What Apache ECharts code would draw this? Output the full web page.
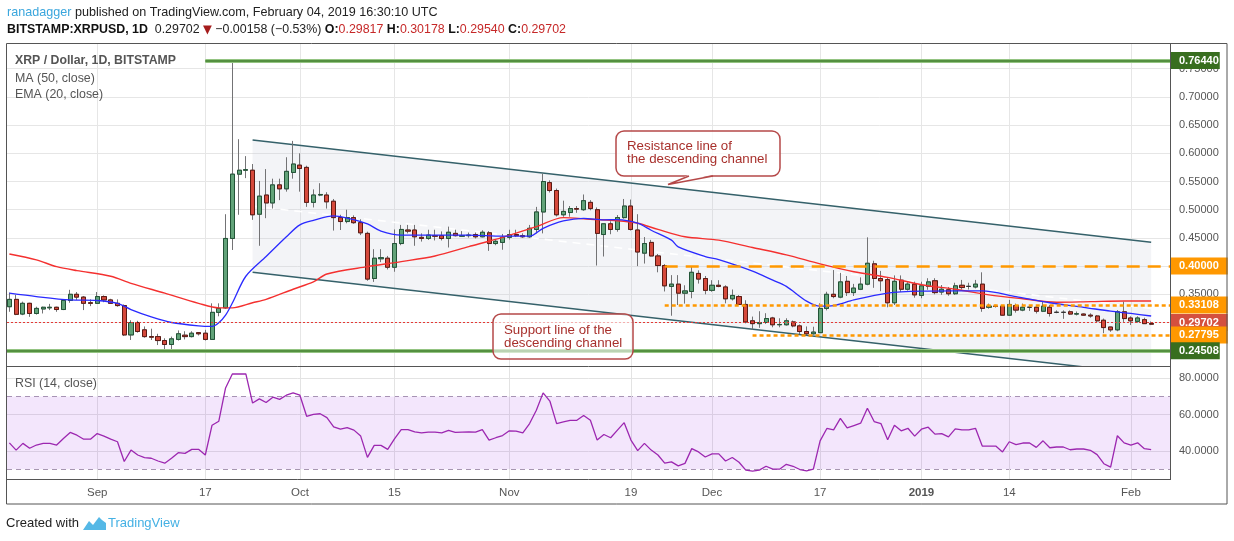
<!DOCTYPE html>
<html>
<head>
<meta charset="UTF-8">
<title>XRP / Dollar, 1D, BITSTAMP</title>
<script src="https://cdn.jsdelivr.net/npm/echarts@6/dist/echarts.min.js"></script>
<style>
  html, body { margin: 0; padding: 0; background: #fff; }
  #chart { width: 1234px; height: 541px; }
</style>
</head>
<body>
<div id="chart"></div>
<script type="text/javascript">
// daily candles, day 0 = 2018-08-19, last = 2019-02-04
var openP = [0.328,0.341,0.315,0.334,0.316,0.324,0.326,0.327,0.323,0.339,
  0.350,0.345,0.335,0.334,0.346,0.340,0.334,0.330,0.278,0.300,
  0.287,0.275,0.275,0.268,0.261,0.270,0.2775,0.275,0.282,0.281,
  0.270,0.318,0.326,0.449,0.563,0.570,0.570,0.492,0.526,0.512,
  0.544,0.537,0.566,0.579,0.575,0.513,0.526,0.526,0.515,0.486,
  0.479,0.486,0.477,0.458,0.378,0.413,0.414,0.398,0.440,0.464,
  0.464,0.451,0.449,0.454,0.454,0.449,0.458,0.453,0.454,0.456,
  0.452,0.459,0.440,0.442,0.451,0.456,0.454,0.452,0.465,0.496,
  0.548,0.534,0.491,0.495,0.502,0.500,0.513,0.500,0.456,0.475,
  0.465,0.486,0.5065,0.464,0.423,0.442,0.418,0.401,0.364,0.368,
  0.352,0.355,0.387,0.378,0.357,0.366,0.363,0.342,0.346,0.332,
  0.303,0.298,0.300,0.308,0.296,0.296,0.301,0.294,0.284,0.280,
  0.282,0.325,0.350,0.345,0.373,0.353,0.359,0.368,0.404,0.378,
  0.376,0.335,0.375,0.359,0.368,0.348,0.364,0.374,0.354,0.358,
  0.351,0.366,0.364,0.363,0.368,0.327,0.329,0.329,0.313,0.330,
  0.322,0.327,0.327,0.320,0.327,0.318,0.318,0.319,0.315,0.315,
  0.313,0.3115,0.304,0.292,0.287,0.319,0.308,0.302,0.305,0.29817];
var highP = [0.353,0.349,0.337,0.335,0.328,0.328,0.333,0.328,0.341,0.358,
  0.354,0.347,0.341,0.354,0.348,0.342,0.341,0.332,0.304,0.303,
  0.293,0.289,0.280,0.272,0.275,0.286,0.2845,0.2845,0.283,0.287,
  0.334,0.334,0.492,0.7644,0.625,0.595,0.581,0.551,0.572,0.555,
  0.555,0.593,0.622,0.600,0.578,0.536,0.547,0.531,0.519,0.491,
  0.500,0.490,0.483,0.461,0.430,0.430,0.418,0.465,0.473,0.473,
  0.473,0.458,0.4645,0.4645,0.4615,0.470,0.4645,0.462,0.4595,0.4595,
  0.4635,0.462,0.4475,0.457,0.4645,0.4645,0.458,0.473,0.505,0.564,
  0.552,0.5375,0.516,0.5065,0.5065,0.527,0.517,0.504,0.4755,0.4795,
  0.4905,0.519,0.518,0.492,0.4515,0.4465,0.4215,0.4035,0.384,0.384,
  0.366,0.399,0.3925,0.3825,0.375,0.375,0.366,0.3585,0.3485,0.3395,
  0.3105,0.320,0.3165,0.310,0.3075,0.3075,0.3035,0.2965,0.293,0.2925,
  0.334,0.3545,0.393,0.388,0.3825,0.3685,0.380,0.451,0.4095,0.3915,
  0.380,0.3835,0.3835,0.3715,0.3725,0.3725,0.3785,0.3785,0.3665,0.363,
  0.3705,0.3755,0.3705,0.3755,0.389,0.3335,0.3315,0.331,0.340,0.3335,
  0.3335,0.331,0.331,0.3365,0.331,0.3215,0.3215,0.3215,0.3195,0.316,
  0.3163,0.3133,0.307,0.2925,0.322,0.337,0.311,0.311,0.3085,0.30178];
var lowP = [0.319,0.313,0.313,0.310,0.314,0.316,0.322,0.319,0.322,0.335,
  0.340,0.322,0.329,0.333,0.336,0.333,0.328,0.276,0.269,0.282,
  0.273,0.269,0.260,0.253,0.253,0.268,0.270,0.2735,0.277,0.268,
  0.269,0.311,0.324,0.4286,0.491,0.556,0.482,0.436,0.485,0.502,
  0.517,0.532,0.555,0.532,0.505,0.504,0.524,0.502,0.463,0.464,
  0.476,0.475,0.455,0.374,0.372,0.407,0.394,0.390,0.437,0.458,
  0.436,0.4435,0.4465,0.4455,0.4455,0.433,0.4525,0.452,0.4505,0.449,
  0.451,0.427,0.437,0.429,0.447,0.4515,0.450,0.450,0.458,0.458,
  0.5305,0.488,0.4875,0.4875,0.4945,0.498,0.499,0.401,0.417,0.4565,
  0.461,0.484,0.463,0.400,0.4045,0.4175,0.389,0.355,0.312,0.331,
  0.3335,0.343,0.369,0.350,0.3545,0.3625,0.334,0.339,0.331,0.2985,
  0.2875,0.2905,0.2975,0.2915,0.2915,0.2945,0.2915,0.2795,0.2775,0.2785,
  0.2815,0.3215,0.343,0.343,0.347,0.347,0.3575,0.366,0.3615,0.3555,
  0.327,0.331,0.354,0.3565,0.344,0.343,0.358,0.350,0.349,0.3475,
  0.349,0.3585,0.3585,0.3605,0.319,0.3245,0.3265,0.312,0.3115,0.3175,
  0.320,0.3205,0.316,0.3185,0.3105,0.3165,0.3065,0.3135,0.3125,0.312,
  0.3085,0.3005,0.281,0.2835,0.2845,0.301,0.2955,0.2995,0.2975,0.29540];
var closeP = [0.341,0.3145,0.334,0.316,0.325,0.327,0.327,0.323,0.339,0.350,
  0.345,0.334,0.334,0.346,0.340,0.334,0.330,0.278,0.300,0.284,
  0.275,0.274,0.268,0.261,0.271,0.280,0.275,0.281,0.280,0.270,
  0.318,0.325,0.449,0.563,0.570,0.571,0.491,0.524,0.512,0.544,
  0.537,0.568,0.581,0.573,0.513,0.526,0.527,0.514,0.486,0.479,
  0.486,0.477,0.459,0.377,0.414,0.415,0.398,0.440,0.465,0.462,
  0.452,0.449,0.455,0.453,0.449,0.460,0.454,0.454,0.455,0.452,
  0.460,0.440,0.444,0.451,0.456,0.454,0.452,0.467,0.496,0.550,
  0.534,0.491,0.497,0.502,0.501,0.516,0.502,0.458,0.475,0.465,
  0.486,0.5065,0.465,0.425,0.440,0.418,0.401,0.365,0.368,0.352,
  0.356,0.389,0.377,0.357,0.366,0.364,0.342,0.348,0.332,0.301,
  0.298,0.300,0.307,0.296,0.2965,0.303,0.294,0.284,0.280,0.283,
  0.325,0.350,0.346,0.372,0.353,0.361,0.368,0.405,0.378,0.374,
  0.335,0.373,0.359,0.368,0.349,0.365,0.372,0.353,0.359,0.351,
  0.365,0.362,0.364,0.368,0.325,0.329,0.3285,0.313,0.332,0.322,
  0.327,0.327,0.320,0.329,0.316,0.318,0.318,0.315,0.3155,0.313,
  0.3115,0.303,0.291,0.287,0.319,0.307,0.303,0.308,0.298,0.29702];

var rsi = [44.5,40.5,44.2,41.5,43.3,44.2,44.2,43.3,46.9,50.2,
  48.7,46.5,46.5,49.6,48.2,46.5,45.1,34.2,40.5,37.8,
  36.4,36.0,34.5,33.3,36.0,39.1,38.7,40.9,40.9,37.8,
  54.2,56.4,74.7,82.4,82.5,82.4,66.4,68.7,66.7,69.6,
  68.4,70.7,72.0,70.7,59.1,60.2,60.5,58.4,53.3,52.0,
  52.9,51.5,48.2,36.5,43.1,43.1,40.9,46.7,51.8,51.8,
  50.5,50.0,50.4,50.4,50.0,51.3,50.2,50.4,50.5,50.4,
  51.8,46.0,47.3,48.5,51.1,50.9,50.0,55.1,62.4,72.0,
  67.5,55.1,56.0,56.9,56.9,59.5,56.9,46.0,49.1,47.3,
  51.5,55.6,46.0,40.2,44.2,40.5,37.8,33.3,34.0,31.8,
  33.2,41.3,39.5,36.7,38.4,38.4,34.5,36.4,33.8,29.5,
  28.9,29.5,31.6,30.0,30.0,32.7,31.6,29.8,29.1,30.0,
  45.6,52.4,51.6,58.0,52.7,54.0,55.3,63.5,56.2,55.1,
  46.2,54.2,51.1,52.5,48.2,52.0,53.1,49.3,49.6,47.8,
  52.2,51.6,51.6,52.5,42.7,42.7,42.7,39.5,45.1,43.5,
  44.4,44.4,42.0,45.6,41.8,42.2,42.2,40.7,41.1,41.1,
  40.4,38.0,33.0,31.1,48.4,44.5,43.3,44.5,41.3,40.7];

// moving averages at these days
var maDay = [0,4,7,10,15,18,23,28,31,33,36,38,42,45,47,53,58,63,68,73,78,82,86,90,93,96,100,105,110,115,120,125,130,135,140,145,150,155,160,165,169];
var maVal = [0.4215,0.411,0.399,0.392,0.382,0.3695,0.352,0.334,0.326,0.326,0.335,0.341,0.359,0.372,0.386,0.399,0.408,0.418,0.4345,0.451,0.470,0.486,0.483,0.4805,0.476,0.465,0.452,0.446,0.433,0.420,0.404,0.390,0.380,0.367,0.359,0.349,0.342,0.336,0.337,0.338,0.338];
var emaDay = [0,4,9,13,16,18,21,24,28,30,31,32,33,35,38,41,43,45,48,50,53,55,58,63,68,73,77,79,82,85,88,90,93,95,98,99,103,105,110,113,115,118,120,122,125,130,135,140,144,149,154,159,163,166,169];
var emaVal = [0.352,0.346,0.340,0.339,0.334,0.323,0.310,0.300,0.294,0.293,0.2995,0.313,0.3345,0.382,0.417,0.452,0.473,0.481,0.489,0.485,0.4747,0.462,0.455,0.455,0.455,0.453,0.453,0.467,0.480,0.4847,0.482,0.4825,0.476,0.4635,0.446,0.434,0.417,0.4114,0.391,0.375,0.364,0.338,0.329,0.330,0.340,0.352,0.3555,0.356,0.356,0.346,0.335,0.327,0.320,0.316,0.3115];

// descending channel drawing
var chDay = [36, 169];
var chUpper = [0.6236, 0.4422];
var chLower = [0.3890, 0.2076];

// horizontal levels
var levelVal = [0.76440, 0.40000, 0.33108, 0.29702, 0.27795, 0.24508];
var levelFrom = [29, 97, 97, null, 110, null];

var dayTicks = [13, 29, 43, 57, 74, 92, 104, 120, 135, 148, 166];
var dayTickLabels = ['Sep', '17', 'Oct', '15', 'Nov', '19', 'Dec', '17', '2019', '14', 'Feb'];
var priceTicks = [0.25, 0.30, 0.35, 0.40, 0.45, 0.50, 0.55, 0.60, 0.65, 0.70, 0.75];
var priceTickLabels = ['0.25000', '0.30000', '0.35000', '0.40000', '0.45000', '0.50000', '0.55000', '0.60000', '0.65000', '0.70000', '0.75000'];
var rsiTicks = [40, 60, 80];
var rsiTickLabels = ['40.0000', '60.0000', '80.0000'];

var FONT = "'Liberation Sans', Arial, sans-serif";
var X_MIN = -0.352, X_MAX = 171.79;

var candles = [], bodies = [];
for (var i = 0; i < closeP.length; i++) {
  candles.push([i, openP[i], closeP[i], lowP[i], highP[i]]);
  bodies.push([i, openP[i], closeP[i], Math.min(openP[i], closeP[i]), Math.max(openP[i], closeP[i])]);
}
var maData = maDay.map(function (d, k) { return [d, maVal[k]]; });
var emaData = emaDay.map(function (d, k) { return [d, emaVal[k]]; });
var rsiData = rsi.map(function (v, k) { return [k, v]; });
var channelFill = [
  [chDay[0], chUpper[0]], [chDay[1], chUpper[1]], [chDay[1], chLower[1]], [chDay[0], chLower[0]]
];

// grid lines + right axis labels for price pane
var priceGrid = [];
priceTicks.forEach(function (v, k) {
  priceGrid.push({ yAxis: v, label: { show: true, position: 'end', distance: 1, padding: [0, 0, 0, 8],
    formatter: priceTickLabels[k], color: '#555', fontSize: 11, fontFamily: FONT } });
});
dayTicks.forEach(function (d) { priceGrid.push({ xAxis: d }); });

// levels
var levelColor = ['#3f7f2a', '#ff9800', '#ff9800', '#e53935', '#ff9800', '#3f7f2a'];
var levelBox = ['#386e1f', '#ff9800', '#ff9800', '#d4503f', '#ff9800', '#386e1f'];
var levelDash = ['solid', [13, 8], [4, 3], [2, 2], [4, 3], 'solid'];
var levelWidth = [1.6, 2.5, 2.5, 1, 2.5, 1.6];
var levelLines = [];
levelVal.forEach(function (v, k) {
  var green = (k === 0 || k === 5);
  var lbl = { show: true, position: 'end', distance: 1, formatter: v.toFixed(5), color: '#fff', fontWeight: 'bold',
    fontSize: 11, fontFamily: FONT, backgroundColor: levelBox[k], padding: green ? [3, 1, 3, 8] : [3, 9, 3, 8] };
  var ls = { color: levelColor[k], width: levelWidth[k], type: levelDash[k] };
  if (green) {
    var under = { color: '#94c482', width: 4, type: 'solid' };
    if (levelFrom[k] == null) levelLines.push({ yAxis: v, lineStyle: under, label: { show: false } });
    else levelLines.push([{ coord: [levelFrom[k], v], lineStyle: under, label: { show: false } }, { coord: [X_MAX, v] }]);
  }
  if (levelFrom[k] == null) levelLines.push({ yAxis: v, lineStyle: ls, label: lbl });
  else levelLines.push([{ coord: [levelFrom[k], v], lineStyle: ls, label: lbl }, { coord: [X_MAX, v] }]);
});

// rsi pane lines
var rsiLines = [];
rsiTicks.forEach(function (v, k) {
  rsiLines.push({ yAxis: v, label: { show: true, position: 'end', distance: 1, padding: [0, 0, 0, 8],
    formatter: rsiTickLabels[k], color: '#555', fontSize: 11, fontFamily: FONT } });
});
rsiLines.push({ yAxis: 70, lineStyle: { color: '#a899b0', type: [5, 4] } });
rsiLines.push({ yAxis: 30, lineStyle: { color: '#a899b0', type: [5, 4] } });
dayTicks.forEach(function (d, k) {
  rsiLines.push({ xAxis: d, label: { show: true, position: 'start', distance: 8, formatter: dayTickLabels[k],
    color: '#555', fontSize: 11.5, fontFamily: FONT, fontWeight: dayTickLabels[k] === '2019' ? 'bold' : 'normal' } });
});

var myChart = echarts.init(document.getElementById('chart'));

var option = {
  animation: false,
  backgroundColor: '#fff',
  grid: [
    { left: 7, top: 43, width: 1163, height: 323 },
    { left: 7, top: 366, width: 1163, height: 113 }
  ],
  xAxis: [
    { type: 'value', gridIndex: 0, min: X_MIN, max: X_MAX, show: false },
    { type: 'value', gridIndex: 1, min: X_MIN, max: X_MAX, show: false }
  ],
  yAxis: [
    { type: 'value', gridIndex: 0, min: 0.22287, max: 0.79557, show: false },
    { type: 'value', gridIndex: 1, min: 24.59, max: 86.79, show: false }
  ],
  series: [
    {
      name: 'channel', type: 'line', xAxisIndex: 0, yAxisIndex: 0, silent: true, z: 1, symbol: 'none',
      data: channelFill.concat([channelFill[0]]),
      lineStyle: { width: 0, opacity: 0 },
      areaStyle: { color: 'rgba(200,205,215,0.3)', origin: 'start' }
    },
    {
      name: 'mid', type: 'line', xAxisIndex: 0, yAxisIndex: 0, silent: true, z: 2, symbol: 'none',
      data: [[chDay[0], (chUpper[0] + chLower[0]) / 2], [chDay[1], (chUpper[1] + chLower[1]) / 2]],
      lineStyle: { color: 'rgba(255,255,255,0.95)', width: 1.6, type: [8, 6] }
    },
    {
      name: 'upper', type: 'line', xAxisIndex: 0, yAxisIndex: 0, silent: true, z: 2, symbol: 'none',
      data: [[chDay[0], chUpper[0]], [chDay[1], chUpper[1]]],
      lineStyle: { color: '#35616a', width: 1.5 }
    },
    {
      name: 'lower', type: 'line', xAxisIndex: 0, yAxisIndex: 0, silent: true, z: 2, symbol: 'none',
      data: [[chDay[0], chLower[0]], [chDay[1], chLower[1]]],
      lineStyle: { color: '#35616a', width: 1.5 }
    },
    {
      name: 'wicks', type: 'candlestick', xAxisIndex: 0, yAxisIndex: 0, silent: true, z: 3,
      barWidth: 4.6, data: candles,
      itemStyle: { color: '#737375', color0: '#737375', borderColor: '#737375', borderColor0: '#737375',
                   borderColorDoji: '#737375', borderWidth: 1 },
      markLine: { silent: true, symbol: 'none', z: 1, animation: false,
        lineStyle: { color: '#e6e6e6', width: 1, type: 'solid' }, label: { show: false }, data: priceGrid }
    },
    {
      name: 'XRP', type: 'candlestick', xAxisIndex: 0, yAxisIndex: 0, silent: true, z: 4,
      barWidth: 4.6, data: bodies,
      itemStyle: { color: '#62a379', color0: '#d5493b', borderColor: '#225437', borderColor0: '#5b1a13',
                   borderColorDoji: '#333', borderWidth: 1 }
    },
    {
      name: 'MA (50, close)', type: 'line', xAxisIndex: 0, yAxisIndex: 0, silent: true, z: 5,
      symbol: 'none', smooth: 0.3, data: maData, lineStyle: { color: '#f4302f', width: 1.4 },
      markLine: { silent: true, symbol: 'none', z: 6, animation: false, label: { show: false }, data: levelLines }
    },
    {
      name: 'EMA (20, close)', type: 'line', xAxisIndex: 0, yAxisIndex: 0, silent: true, z: 5,
      symbol: 'none', smooth: 0.3, data: emaData, lineStyle: { color: '#2a2aff', width: 1.3 }
    },
    {
      name: 'RSI (14, close)', type: 'line', xAxisIndex: 1, yAxisIndex: 1, silent: true, z: 3,
      symbol: 'none', data: rsiData, lineStyle: { color: '#9c27b0', width: 1.3 },
      markArea: { silent: true, z: 2, itemStyle: { color: 'rgba(163,63,232,0.13)' },
        data: [[{ yAxis: 30 }, { yAxis: 70 }]] },
      markLine: { silent: true, symbol: 'none', z: 1, animation: false,
        lineStyle: { color: '#e3e3e3', width: 1, type: 'solid' }, label: { show: false }, data: rsiLines }
    }
  ],
  graphic: [
    { type: 'rect', z: 100, silent: true, shape: { x: 6.5, y: 43.5, width: 1220.5, height: 460.5 },
      style: { fill: 'none', stroke: '#555', lineWidth: 1 } },
    { type: 'line', z: 100, silent: true, shape: { x1: 7, y1: 366.5, x2: 1170, y2: 366.5 }, style: { stroke: '#555', lineWidth: 1 } },
    { type: 'line', z: 100, silent: true, shape: { x1: 7, y1: 479.5, x2: 1170, y2: 479.5 }, style: { stroke: '#555', lineWidth: 1 } },
    { type: 'line', z: 100, silent: true, shape: { x1: 1170.5, y1: 43, x2: 1170.5, y2: 480 }, style: { stroke: '#555', lineWidth: 1 } },

    { type: 'text', z: 100, silent: true, x: 7, y: 13,
      style: { text: '{u|ranadagger}{n| published on TradingView.com, February 04, 2019 16:30:10 UTC}',
        textVerticalAlign: 'middle', font: '12.6px ' + FONT,
        rich: { u: { fill: '#3aa6dd', fontSize: 12.6, fontFamily: FONT }, n: { fill: '#222', fontSize: 12.6, fontFamily: FONT } } } },
    { type: 'text', z: 100, silent: true, x: 7, y: 30,
      style: { text: '{b|BITSTAMP:XRPUSD, 1D}{n|  0.29702 }{t|\u25BC}{n| \u22120.00158 (\u22120.53%) }{b|O:}{r|0.29817} {b|H:}{r|0.30178} {b|L:}{r|0.29540} {b|C:}{r|0.29702}',
        textVerticalAlign: 'middle', font: '12.4px ' + FONT,
        rich: {
          b: { fill: '#111', fontWeight: 'bold', fontSize: 12.4, fontFamily: FONT },
          n: { fill: '#222', fontSize: 12.4, fontFamily: FONT },
          t: { fill: '#a51c1c', fontSize: 11.5, fontFamily: "'DejaVu Sans', sans-serif" },
          r: { fill: '#c62828', fontSize: 12.4, fontFamily: FONT }
        } } },

    { type: 'text', z: 100, silent: true, x: 15, y: 61,
      style: { text: 'XRP / Dollar, 1D, BITSTAMP', textVerticalAlign: 'middle', font: 'bold 12.3px ' + FONT, fill: '#555' } },
    { type: 'text', z: 100, silent: true, x: 15, y: 79,
      style: { text: 'MA (50, close)', textVerticalAlign: 'middle', font: '12.4px ' + FONT, fill: '#555' } },
    { type: 'text', z: 100, silent: true, x: 15, y: 95,
      style: { text: 'EMA (20, close)', textVerticalAlign: 'middle', font: '12.4px ' + FONT, fill: '#555' } },
    { type: 'text', z: 100, silent: true, x: 15, y: 384,
      style: { text: 'RSI (14, close)', textVerticalAlign: 'middle', font: '12.4px ' + FONT, fill: '#555' } },

    { type: 'rect', z: 100, silent: true, shape: { x: 616, y: 131, width: 164, height: 45, r: 8 },
      style: { fill: 'rgba(255,255,255,0.75)', stroke: '#b54848', lineWidth: 1.5 } },
    { type: 'polygon', z: 101, silent: true, shape: { points: [[689, 174.8], [668, 184.5], [713, 174.8]] },
      style: { fill: '#fff' } },
    { type: 'polyline', z: 101, silent: true, shape: { points: [[689, 176], [668, 184.5], [713, 176]] },
      style: { fill: 'none', stroke: '#b54848', lineWidth: 1.5 } },
    { type: 'text', z: 102, silent: true, x: 627, y: 139.5,
      style: { text: 'Resistance line of\nthe descending channel', textVerticalAlign: 'top', lineHeight: 13,
        font: '13.3px ' + FONT, fill: '#a8302c' } },
    { type: 'rect', z: 100, silent: true, shape: { x: 493, y: 314, width: 140, height: 45, r: 8 },
      style: { fill: 'rgba(255,255,255,0.6)', stroke: '#b54848', lineWidth: 1.5 } },
    { type: 'text', z: 102, silent: true, x: 504, y: 323.5,
      style: { text: 'Support line of the\ndescending channel', textVerticalAlign: 'top', lineHeight: 13,
        font: '13.3px ' + FONT, fill: '#a8302c' } },

    { type: 'text', z: 100, silent: true, x: 6, y: 523,
      style: { text: 'Created with', textVerticalAlign: 'middle', font: '13px ' + FONT, fill: '#222' } },
    { type: 'polygon', z: 100, silent: true,
      shape: { points: [[83, 530], [89, 521], [93, 525], [99, 517], [102, 520], [106, 523], [106, 530]] },
      style: { fill: '#55b8e6' } },
    { type: 'text', z: 100, silent: true, x: 108, y: 523,
      style: { text: 'TradingView', textVerticalAlign: 'middle', font: '13px ' + FONT, fill: '#45b1e4' } }
  ]
};

myChart.setOption(option);
</script>
</body>
</html>
